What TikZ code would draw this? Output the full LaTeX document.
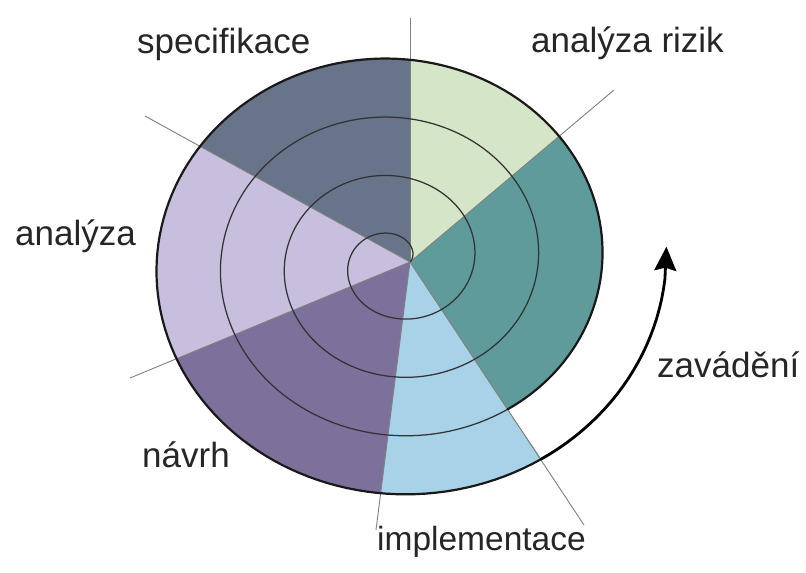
\documentclass[tikz,border=0pt]{standalone}
\usepackage{fontspec}
\setmainfont{Liberation Sans}
\usetikzlibrary{arrows.meta,calc}

\definecolor{specc}{RGB}{104,116,138}
\definecolor{riskc}{RGB}{213,230,200}
\definecolor{tealc}{RGB}{95,155,155}
\definecolor{implc}{RGB}{168,210,232}
\definecolor{navrc}{RGB}{125,112,155}
\definecolor{analc}{RGB}{200,190,222}

% spiral: two slightly different pitches horizontally and vertically
\pgfmathdeclarefunction{spx}{1}{\pgfmathparse{395.5+(14.8+#1/360*64)*cos(#1)}}
\pgfmathdeclarefunction{spy}{1}{\pgfmathparse{261.8-(12.6+#1/360*58.6)*sin(#1)}}

\begin{document}
\begin{tikzpicture}[x=1pt,y=-1pt,
  ring/.style={line width=1.25pt, draw=black!80},
  rim/.style={line width=2.2pt, draw=black!90, line cap=round},
  spoke/.style={line width=0.9pt, draw=black!50},
  lbl/.style={anchor=base west, inner sep=0pt, font=\fontsize{35}{42}\selectfont, text=black!85}]

\fill[white] (0,0) rectangle (806,573);
\useasboundingbox (0,0) rectangle (806,573);

% centre and the ends of the six spokes
\coordinate (O) at (410,262);
\coordinate (e1) at (410,18);
\coordinate (e2) at (614,90);
\coordinate (e3) at (584,525);
\coordinate (e4) at (376,530);
\coordinate (e5) at (130,378);
\coordinate (e6) at (145,116);
\coordinate (tip) at ({spx(1443.5)},{spy(1443.5)});

% coloured sectors, clipped to the last full turn of the spiral
\begin{scope}
  \clip plot[variable=\t, domain=1024.7:1384, samples=160] ({spx(\t)},{spy(\t)}) -- cycle;
  \fill[riskc] (O) -- ($(O)!3!(e2)$) -- ($(O)!3!(e1)$) -- cycle;
  \fill[specc] (O) -- ($(O)!3!(e1)$) -- ($(O)!3!(e6)$) -- cycle;
  \fill[analc] (O) -- ($(O)!3!(e6)$) -- ($(O)!3!(e5)$) -- cycle;
  \fill[navrc] (O) -- ($(O)!3!(e5)$) -- ($(O)!3!(e4)$) -- cycle;
  \fill[implc] (O) -- ($(O)!3!(e4)$) -- ($(O)!3!(e3)$) -- cycle;
  \fill[tealc] (O) -- ($(O)!3!(e3)$) -- ($(O)!3!(e2)$) -- cycle;
\end{scope}

% spokes
\foreach \e in {e1,e2,e3,e4,e5,e6}
  \draw[spoke] (O) -- (\e);

% inner turns of the spiral
\draw[ring] plot[variable=\t, domain=0:1024.7, samples=440] ({spx(\t)},{spy(\t)});
% outer rim
\draw[rim] plot[variable=\t, domain=1024.7:1384, samples=160] ({spx(\t)},{spy(\t)});
% the spiral running on as an arrow
\draw[line width=2.8pt, line cap=round, -{Stealth[length=24pt,width=22pt,inset=3pt]}]
  plot[variable=\t, domain=1384:1436, samples=24] ({spx(\t)},{spy(\t)}) -- (tip);

% labels
\node[lbl] (specifikace) at (137,53) {specifikace};
\node[lbl] (rizika) at (531,52) {analýza rizik};
\node[lbl] (analyza) at (15,245) {analýza};
\node[lbl] (navrh) at (142,467) {návrh};
\node[lbl, font=\fontsize{33.5}{40}\selectfont] (implementace) at (377,550) {implementace};
\node[lbl] (zavadeni) at (657,377) {zavádění};
\end{tikzpicture}
\end{document}
